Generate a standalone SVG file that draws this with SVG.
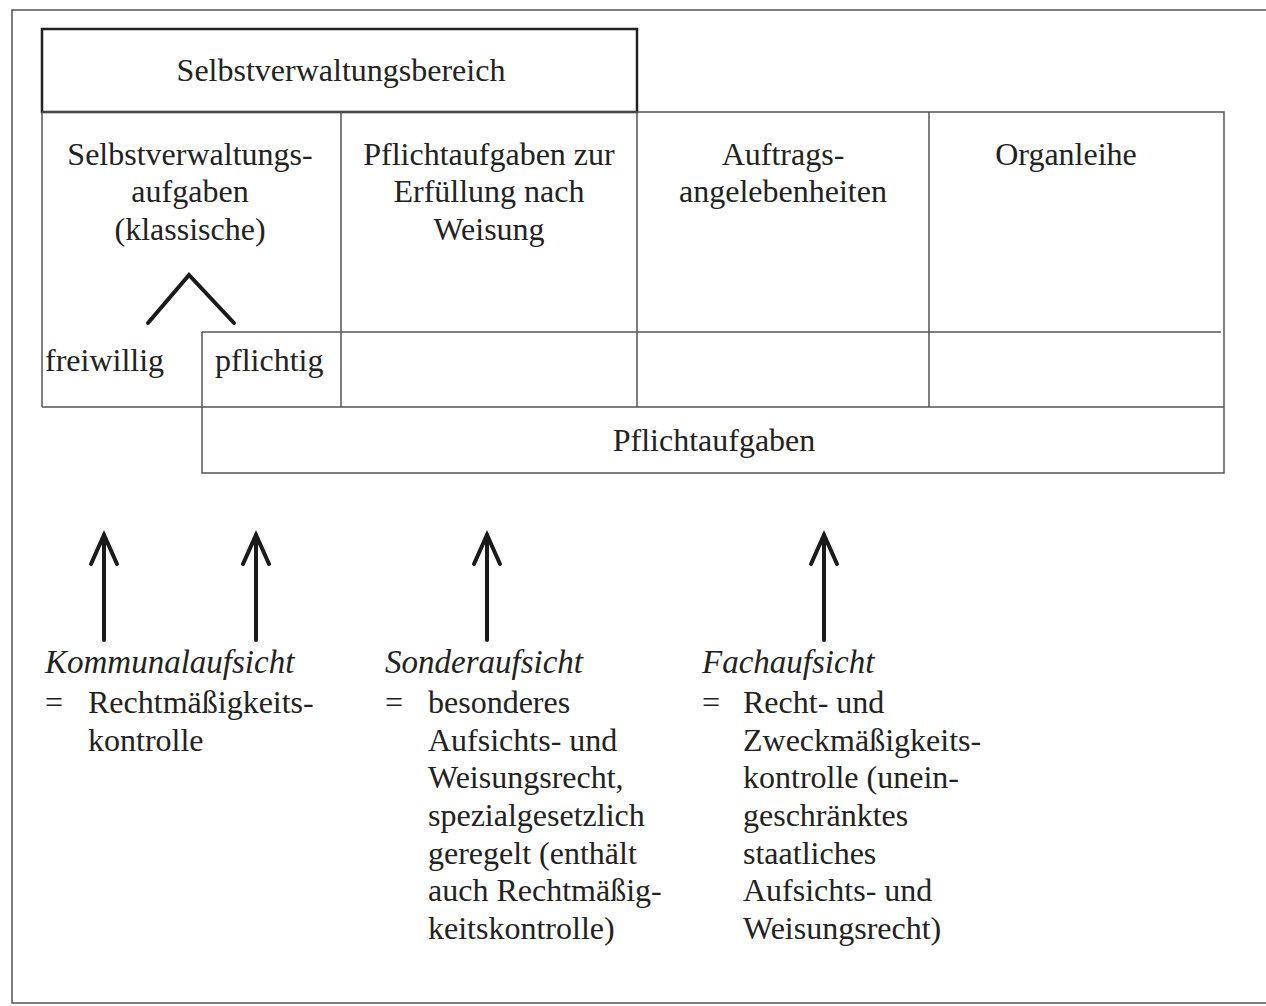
<svg xmlns="http://www.w3.org/2000/svg" width="1266" height="1006" viewBox="0 0 1266 1006">
<style>
.t{font-family:"Liberation Serif","Times New Roman",serif;font-size:32px;fill:#222}
.i{font-style:italic;font-size:33px}
.m{text-anchor:middle}
.ln{stroke:#555;stroke-width:1.5;fill:none}
.thick{stroke:#222;stroke-width:2.5;fill:none}
.arr{stroke:#1a1a1a;stroke-width:4;fill:none;stroke-linecap:round;stroke-linejoin:miter}
</style>
<rect width="1266" height="1006" fill="#fff"/>
<g id="frame">
<polyline class="ln" points="1266,10 12,10 12,1003 1266,1003"/>
</g>
<g id="selbstverwaltungsbereich">
<rect class="thick" x="42" y="29" width="595" height="83"/>
<text class="t m" x="341" y="81">Selbstverwaltungsbereich</text>
</g>
<g id="table">
<polyline class="ln" points="42,112 1224,112 1224,473 202,473 202,332"/>
<line class="ln" x1="42" y1="112" x2="42" y2="407"/>
<line class="ln" x1="42" y1="407" x2="1224" y2="407"/>
<line class="ln" x1="202" y1="332" x2="1221" y2="332"/>
<line class="ln" x1="341" y1="112" x2="341" y2="407"/>
<line class="ln" x1="637" y1="112" x2="637" y2="407"/>
<line class="ln" x1="929" y1="112" x2="929" y2="407"/>
</g>
<g id="col-selbstverwaltungsaufgaben">
<text class="t m" x="190" y="165">Selbstverwaltungs-</text>
<text class="t m" x="190" y="202">aufgaben</text>
<text class="t m" x="190" y="240">(klassische)</text>
</g>
<g id="col-pflichtaufgaben-weisung">
<text class="t m" x="489" y="165">Pflichtaufgaben zur</text>
<text class="t m" x="489" y="202">Erfüllung nach</text>
<text class="t m" x="489" y="240">Weisung</text>
</g>
<g id="col-auftrags">
<text class="t m" x="783" y="165">Auftrags-</text>
<text class="t m" x="783" y="202">angelebenheiten</text>
</g>
<g id="col-organleihe">
<text class="t m" x="1066" y="165">Organleihe</text>
</g>
<g id="split">
<polyline class="arr" points="148,323 189,275 234,323"/>
</g>
<g id="freiwillig">
<text class="t" x="45" y="371">freiwillig</text>
</g>
<g id="pflichtig">
<text class="t" x="215" y="371">pflichtig</text>
</g>
<g id="pflichtaufgaben">
<text class="t m" x="714" y="451">Pflichtaufgaben</text>
</g>
<g id="connectors">
<line class="arr" x1="104" y1="640" x2="104" y2="535"/>
<polyline class="arr" points="91,564 104,535 117,564"/>
<line class="arr" x1="256" y1="640" x2="256" y2="535"/>
<polyline class="arr" points="243,564 256,535 269,564"/>
<line class="arr" x1="487" y1="640" x2="487" y2="535"/>
<polyline class="arr" points="474,564 487,535 500,564"/>
<line class="arr" x1="824" y1="640" x2="824" y2="535"/>
<polyline class="arr" points="811,564 824,535 837,564"/>
</g>
<g id="kommunalaufsicht">
<text class="t i" x="45" y="673">Kommunalaufsicht</text>
<text class="t" x="45" y="713">=</text>
<text class="t" x="88" y="713">Rechtmäßigkeits-</text>
<text class="t" x="88" y="751">kontrolle</text>
</g>
<g id="sonderaufsicht">
<text class="t i" x="385" y="673">Sonderaufsicht</text>
<text class="t" x="385" y="713">=</text>
<text class="t" x="428" y="713">besonderes</text>
<text class="t" x="428" y="751">Aufsichts- und</text>
<text class="t" x="428" y="788">Weisungsrecht,</text>
<text class="t" x="428" y="826">spezialgesetzlich</text>
<text class="t" x="428" y="864">geregelt (enthält</text>
<text class="t" x="428" y="901">auch Rechtmäßig-</text>
<text class="t" x="428" y="939">keitskontrolle)</text>
</g>
<g id="fachaufsicht">
<text class="t i" x="702" y="673">Fachaufsicht</text>
<text class="t" x="702" y="713">=</text>
<text class="t" x="743" y="713">Recht- und</text>
<text class="t" x="743" y="751">Zweckmäßigkeits-</text>
<text class="t" x="743" y="788">kontrolle (unein-</text>
<text class="t" x="743" y="826">geschränktes</text>
<text class="t" x="743" y="864">staatliches</text>
<text class="t" x="743" y="901">Aufsichts- und</text>
<text class="t" x="743" y="939">Weisungsrecht)</text>
</g>
</svg>
